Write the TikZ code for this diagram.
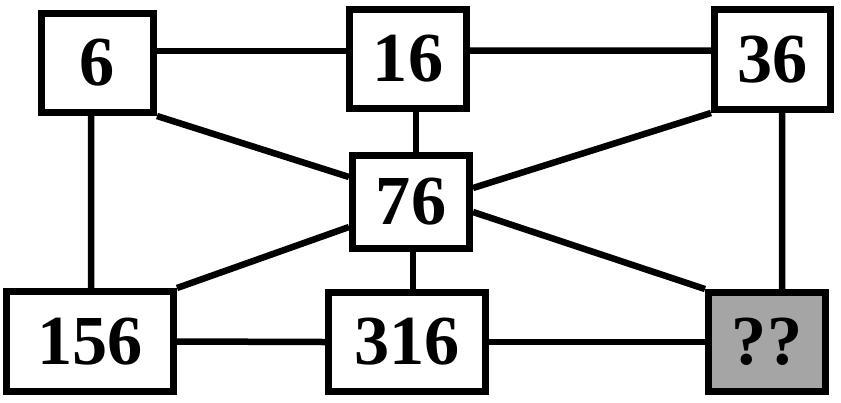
\documentclass[tikz,border=0pt]{standalone}
\usepackage{fontspec}
\setmainfont{Liberation Serif}
\definecolor{unknownfill}{RGB}{165,165,165}

\begin{document}
\begin{tikzpicture}
        \tikzstyle{numbox} = [draw, line width=0.14cm, fill=white, inner sep=0pt,
            minimum width=2.34cm, minimum height=1.98cm,
            font=\fontsize{40}{40}\selectfont\bfseries]
        \tikzstyle{link} = [line width=0.13cm]
        \useasboundingbox (0, 0) rectangle (16.82, -8.04);

        \node[numbox, minimum width=2.24cm] (six) at (1.95, -1.26) {6};
        \node[numbox] (sixteen) at (8.16, -1.18) {16};
        \node[numbox, minimum width=2.32cm, minimum height=2.0cm] (thirtysix) at (15.45, -1.19) {36};
        \node[numbox, minimum height=1.86cm] (seventysix) at (8.22, -4.04) {76};
        \node[numbox, minimum width=3.34cm, minimum height=2.0cm] (onefiftysix) at (1.8, -6.83) {156};
        \node[numbox, minimum width=3.14cm] (threesixteen) at (8.14, -6.84) {316};
        \node[numbox, fill=unknownfill] (unknown) at (15.34, -6.84) {??};

        \draw[link] ([yshift=0.24cm]six.east) -- ([yshift=0.16cm]sixteen.west);
        \draw[link] ([yshift=0.17cm]sixteen.east) -- ([yshift=0.18cm]thirtysix.west);
        \draw[link] ([xshift=-0.13cm]six.south) -- ([xshift=0.02cm]onefiftysix.north);
        \draw[link] (six.south east) -- ([yshift=0.5cm]seventysix.west);
        \draw[link] ([xshift=0.16cm]sixteen.south) -- ([xshift=0.1cm]seventysix.north);
        \draw[link] (thirtysix.south west) -- ([yshift=0.28cm]seventysix.east);
        \draw[link] ([yshift=-0.5cm]seventysix.west) -- (onefiftysix.north east);
        \draw[link] ([yshift=-0.2cm]seventysix.east) -- (unknown.north west);
        \draw[link] ([xshift=0.04cm]seventysix.south) -- ([xshift=0.12cm]threesixteen.north);
        \draw[link] ([xshift=0.19cm]thirtysix.south) -- ([xshift=0.3cm]unknown.north);
        \draw[link] (onefiftysix.east) -- (threesixteen.west);
        \draw[link] (threesixteen.east) -- (unknown.west);
    \end{tikzpicture}
\end{document}
